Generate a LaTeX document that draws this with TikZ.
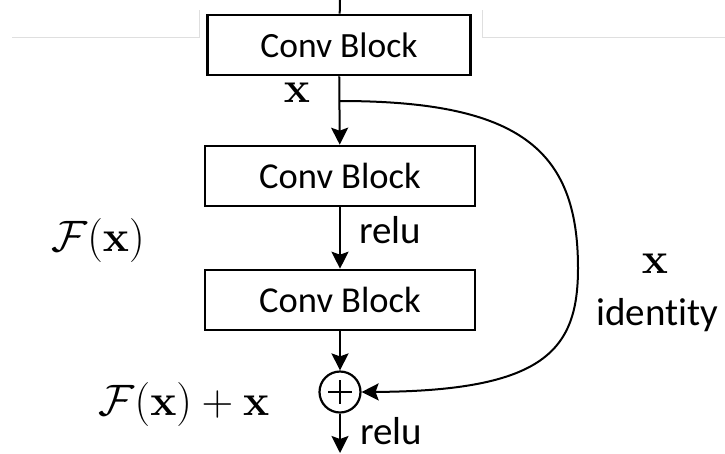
\RequirePackage{fix-cm}
\documentclass[tikz,border=0pt]{standalone}
\usepackage[no-math]{fontspec}
\setmainfont[Ligatures=NoCommon]{Carlito}
\usetikzlibrary{arrows.meta}

\begin{document}
\begin{tikzpicture}[x=1pt,y=-1pt,
  block/.style={draw, line width=2.6pt, minimum width=270pt, minimum height=60pt,
                inner sep=0pt, font=\fontsize{36.5}{40}\selectfont},
  wire/.style={line width=2pt},
  flow/.style={wire, -{Stealth[length=17pt,width=17pt,inset=3pt]}},
  lbl/.style={font=\fontsize{39}{44}\selectfont, anchor=base west, inner sep=0pt},
  mathlbl/.style={font=\fontsize{44}{50}\selectfont, anchor=base, inner sep=0pt},
  frame/.style={draw=gray!25, line width=1pt}
]
\useasboundingbox (0,0) rectangle (725,453);

% faint frame lines behind the first block
\draw[frame] (12,37) -- (199,37) -- (199,10);
\draw[frame] (482,10) -- (482,37) -- (725,37);

% blocks
\node[block, minimum width=263pt, font=\fontsize{35.5}{38}\selectfont] (b1) at (339,45) {Conv Block};
\node[block] (b2) at (340,176) {Conv Block};
\node[block] (b3) at (340,300) {Conv Block};

% summation node
\node[circle, draw, line width=2.2pt, minimum size=41pt, inner sep=0pt] (sum) at (340,392) {};
\draw[wire] (sum.center) ++(-12,0) -- ++(24,0);
\draw[wire] (sum.center) ++(0,-12) -- ++(0,24);

% main path
\coordinate (top) at (340,0);
\coordinate (split) at (340,101);
\coordinate (out) at (340,453);
\draw[wire] (top) -- (b1);
\draw[flow] (b1) -- (b2);
\draw[flow] (b2) -- (b3);
\draw[flow] (b3) -- (sum);
\draw[flow] (sum) -- (out);

% identity shortcut
\draw[flow] (split) .. controls (520,101) and (578,150) .. (578,268)
            .. controls (578,350) and (545,391) .. (sum.east);

% labels
\node[mathlbl] (xin) at (297,102) {$\mathbf{x}$};
\node[lbl] (relu1) at (359,243) {relu};
\node[lbl] (relu2) at (360,444) {relu};
\node[mathlbl] (fx) at (98,251) {$\mathcal{F}(\mathbf{x})$};
\node[mathlbl] (fxx) at (184,415) {$\mathcal{F}(\mathbf{x})+\mathbf{x}$};
\node[mathlbl] (xid) at (655,273) {$\mathbf{x}$};
\node[lbl] (ident) at (596,325) {identity};
\end{tikzpicture}
\end{document}
